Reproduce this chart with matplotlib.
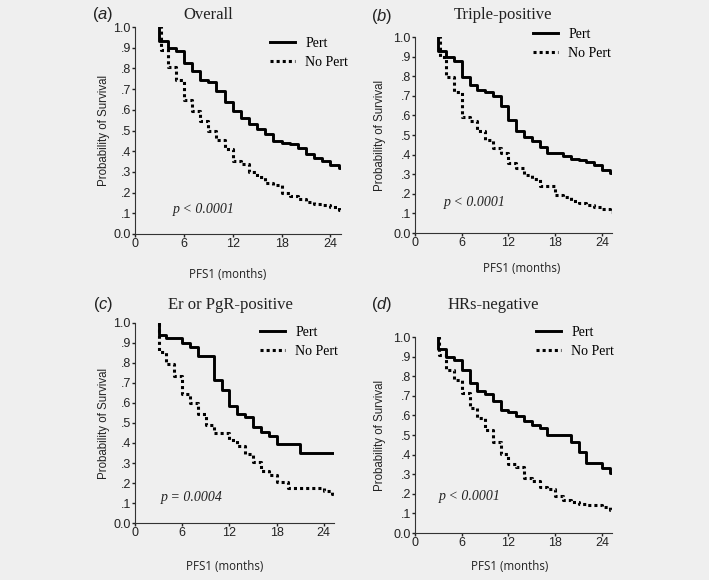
import numpy as np
import matplotlib.pyplot as plt

plt.rcParams['mathtext.fontset'] = 'custom'
plt.rcParams['mathtext.it'] = 'Liberation Sans:italic'
plt.rcParams['mathtext.rm'] = 'Liberation Sans'

W, H = 709, 580
BG = '#efefef'

#panel names and p-values
panel_letters = ['a', 'b', 'c', 'd']
panel_titles = ['Overall', 'Triple-positive', 'Er or PgR-positive', 'HRs-negative']
p_texts = ['p < 0.0001', 'p < 0.0001', 'p = 0.0004', 'p < 0.0001']

#Kaplan-Meier steps (months, probability)
a_pert_t = [3, 3, 4, 5, 6, 7, 8, 9, 10, 11, 12, 13, 14, 15, 16, 17, 18, 19, 20, 21, 22, 23, 24, 25, 25.3]
a_pert_s = [1.0, .932, .90, .886, .826, .786, .745, .736, .69, .64, .593, .56, .533, .507, .483, .448, .44, .435, .415, .388, .367, .354, .335, .319, .319]
a_nop_t = [3, 3.2, 4, 5, 6, 7, 8, 9, 10, 11, 12, 13, 14, 15, 16, 17, 18, 19, 20, 21, 22, 23, 24, 25, 25.3]
a_nop_s = [1.0, .89, .805, .745, .646, .593, .544, .496, .456, .41, .354, .338, .30, .275, .246, .237, .20, .185, .169, .155, .145, .14, .13, .118, .118]

b_pert_t = [3, 3, 4, 5, 6, 7, 8, 9, 10, 11, 12, 13, 14, 15, 16, 17, 19, 20, 21, 22, 23, 24, 25, 25.3]
b_pert_s = [1.0, .927, .898, .878, .794, .755, .73, .72, .697, .646, .578, .52, .49, .47, .44, .41, .395, .38, .37, .36, .345, .32, .305, .305]
b_nop_t = [3, 3.2, 4, 5, 6, 7, 8, 9, 10, 11, 12, 13, 14, 15, 16, 18, 19, 20, 21, 22, 23, 24, 25, 25.3]
b_nop_s = [1.0, .898, .796, .718, .592, .57, .519, .476, .434, .41, .357, .332, .298, .277, .238, .195, .185, .162, .155, .145, .135, .125, .107, .107]

c_pert_t = [3, 3, 4, 6, 7, 8, 10, 11, 12, 13, 14, 15, 16, 17, 18, 21, 25.3]
c_pert_s = [1.0, .938, .925, .90, .88, .836, .713, .663, .583, .547, .528, .478, .455, .435, .395, .35, .35]
c_nop_t = [3, 3.1, 4, 5, 6, 7, 8, 9, 10, 12, 13, 14, 15, 16, 17, 18, 19.5, 24, 25, 25.3]
c_nop_s = [1.0, .853, .797, .737, .645, .60, .547, .492, .452, .417, .387, .347, .303, .262, .242, .203, .175, .16, .145, .145]

d_pert_t = [3, 3, 4, 5, 6, 7, 8, 9, 10, 11, 12, 13, 14, 15, 16, 17, 20, 21, 22, 24, 25, 25.3]
d_pert_s = [1.0, .94, .90, .884, .83, .765, .723, .707, .672, .626, .617, .597, .57, .553, .536, .50, .464, .413, .357, .333, .306, .306]
d_nop_t = [3, 3.1, 4, 5, 6, 7, 8, 9, 10, 11, 12, 13, 14, 15, 16, 17, 18, 19, 20, 21, 22, 24, 25, 25.3]
d_nop_s = [1.0, .906, .833, .782, .714, .638, .587, .524, .464, .405, .354, .337, .28, .265, .235, .223, .187, .17, .158, .15, .145, .133, .116, .116]

curves = [(a_pert_t, a_pert_s, a_nop_t, a_nop_s),
          (b_pert_t, b_pert_s, b_nop_t, b_nop_s),
          (c_pert_t, c_pert_s, c_nop_t, c_nop_s),
          (d_pert_t, d_pert_s, d_nop_t, d_nop_s)]

x_ticks = [0, 6, 12, 18, 24]
y_ticks = [0.0, .1, .2, .3, .4, .5, .6, .7, .8, .9, 1.0]
y_tick_labels = ['0.0', '.1', '.2', '.3', '.4', '.5', '.6', '.7', '.8', '.9', '1.0']

#layout in pixels: axes left, right, top, bottom
boxes = [(135, 341, 27, 234), (415, 612, 37, 233), (135, 334, 323, 523), (415, 612, 337, 533)]
letter_pos = [(103, 15), (382, 17), (103, 305), (382, 305)]
title_pos = [(208, 15), (503, 15), (230, 305), (493, 305)]
legend_pos = [(270, 37), (533, 28), (260, 326), (536, 326)]
p_pos = [(8.4, .12), (7.7, .158), (7.2, .13), (7.06, .184)]
ylab_x = [-0.12, -0.145, -0.125, -0.145]
xlab_pos = [(0.45, -0.166), (0.54, -0.15), (0.45, -0.185), (0.48, -0.138)]


def fx(x):
    return x / W


def fy(y):
    return 1 - y / H


fig = plt.figure(figsize=(W / 100, H / 100), dpi=100, facecolor=BG)

for i in range(4):
    l, r, t, b = boxes[i]
    ax = fig.add_axes([fx(l), fy(b), (r - l) / W, (b - t) / H])
    ax.set_facecolor(BG)
    pt, ps, nt, ns = curves[i]
    ax.step(nt, ns, where='post', color='black', lw=2.2, linestyle=(0, (1, 1)), label='No Pert')
    ax.step(pt, ps, where='post', color='black', lw=2.1, label='Pert')
    ax.set_xlim(0, 25.3)
    ax.set_ylim(0, 1.0)
    for s in ['top', 'right']:
        ax.spines[s].set_visible(False)
    for s in ['left', 'bottom']:
        ax.spines[s].set_color('#333333')
        ax.spines[s].set_linewidth(0.8)
    ax.set_xticks(x_ticks)
    ax.set_yticks(y_ticks)
    ax.set_yticklabels(y_tick_labels)
    ax.tick_params(length=2, width=1, pad=1, labelsize=9, colors='#222222')
    for lab in ax.get_xticklabels() + ax.get_yticklabels():
        lab.set_family('Liberation Sans')
    ax.set_ylabel('Probability of Survival', family='Liberation Sans', fontsize=8.3, color='#222222')
    ax.yaxis.set_label_coords(ylab_x[i], 0.5)
    ax.set_xlabel('PFS1 (months)', family='Open Sans', fontsize=8.3, color='#222222')
    ax.xaxis.set_label_coords(xlab_pos[i][0], xlab_pos[i][1])
    ax.text(p_pos[i][0], p_pos[i][1], p_texts[i], family='Liberation Serif', style='italic',
            fontsize=10, ha='center', va='center', color='#222222')

    h, lb = ax.get_legend_handles_labels()
    lx, ly = legend_pos[i]
    ax.legend(h[::-1], lb[::-1], loc='upper left', bbox_to_anchor=(fx(lx), fy(ly)),
              bbox_transform=fig.transFigure, frameon=False, borderpad=0, borderaxespad=0,
              handlelength=1.8, handletextpad=0.75, labelspacing=0.45,
              prop={'family': 'Liberation Serif', 'size': 10})

    fig.text(fx(title_pos[i][0]), fy(title_pos[i][1]), panel_titles[i], family='Liberation Serif',
             fontsize=12, ha='center', va='center', color='#222222')
    fig.text(fx(letter_pos[i][0]), fy(letter_pos[i][1]), r'$(\mathit{' + panel_letters[i] + '})$',
             fontsize=12, ha='center', va='center', color='#222222')

fig.savefig('out.png', dpi=100, facecolor=BG)
